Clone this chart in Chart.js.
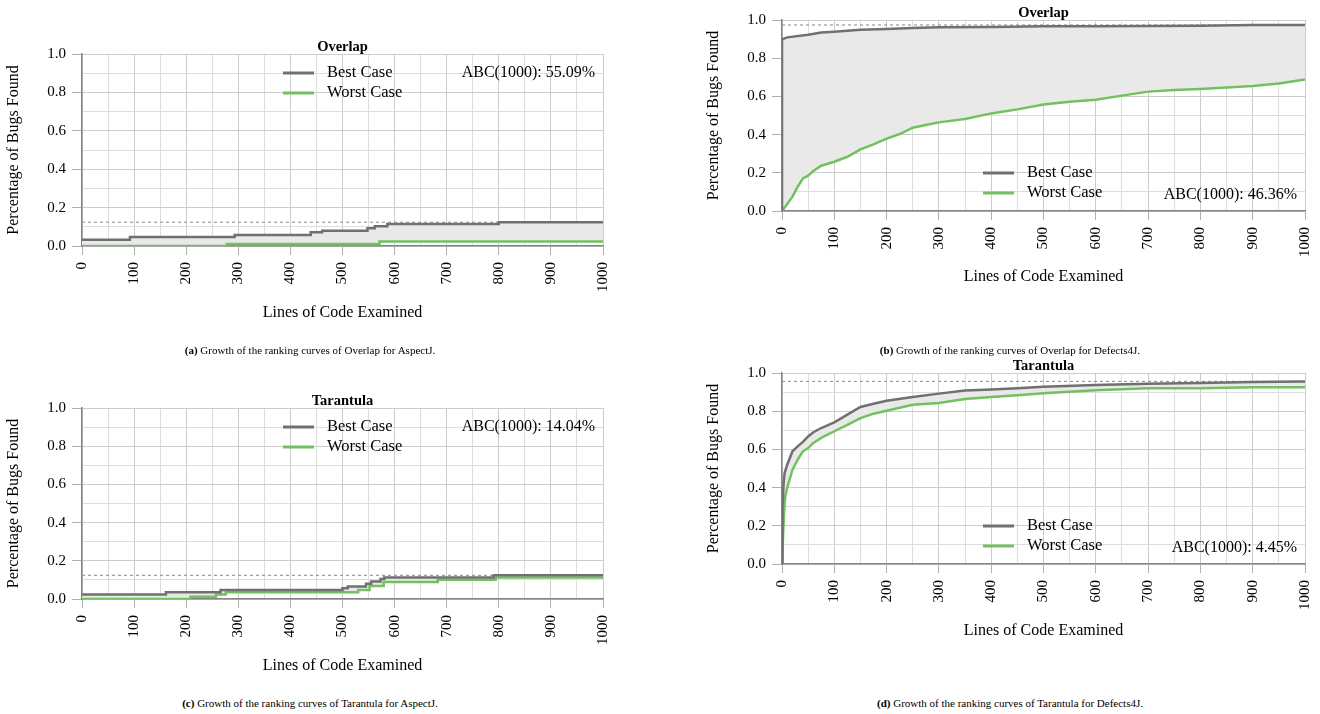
<!DOCTYPE html>
<html>
<head>
<meta charset="utf-8">
<script src="https://cdn.jsdelivr.net/npm/chart.js@4.4.0/dist/chart.umd.min.js"></script>
<style>
  body { margin: 0; background: #fff; width: 1320px; height: 714px; position: relative; overflow: hidden; font-family: "Liberation Serif", serif; }
  canvas { position: absolute; }
  .cap { position: absolute; width: 620px; text-align: center; font-size: 11px; line-height: 14px; color: #000; white-space: nowrap; }
</style>
</head>
<body>
<canvas id="ca" width="640" height="335" style="left:0;top:0"></canvas>
<canvas id="cb" width="640" height="300" style="left:700px;top:0"></canvas>
<canvas id="cc" width="640" height="335" style="left:0;top:355px"></canvas>
<canvas id="cd" width="640" height="300" style="left:700px;top:355px"></canvas>
<div class="cap" style="left:0;top:343px"><b>(a)</b> Growth of the ranking curves of Overlap for AspectJ.</div>
<div class="cap" style="left:700px;top:343px"><b>(b)</b> Growth of the ranking curves of Overlap for Defects4J.</div>
<div class="cap" style="left:0;top:696px"><b>(c)</b> Growth of the ranking curves of Tarantula for AspectJ.</div>
<div class="cap" style="left:700px;top:696px"><b>(d)</b> Growth of the ranking curves of Tarantula for Defects4J.</div>
<script>
// (a) Overlap / AspectJ
const aBestX = [0, 92, 293, 439, 461, 548, 562, 586, 800, 1000];
const aBestY = [0.033, 0.047, 0.057, 0.071, 0.080, 0.092, 0.103, 0.115, 0.124, 0.124];
const aWorstX = [0, 278, 571, 1000];
const aWorstY = [0, 0.010, 0.023, 0.023];

// (b) Overlap / Defects4J
const bBestX = [0, 0, 10, 50, 75, 100, 150, 200, 250, 300, 400, 500, 600, 700, 800, 900, 1000];
const bBestY = [0, 0.899, 0.909, 0.923, 0.935, 0.939, 0.949, 0.953, 0.958, 0.962, 0.963, 0.967, 0.967, 0.969, 0.970, 0.974, 0.974];
const bWorstX = [0, 10, 20, 30, 40, 50, 60, 75, 100, 125, 150, 175, 200, 225, 250, 275, 300, 350, 400, 450, 500, 550, 600, 650, 700, 750, 800, 850, 900, 950, 1000];
const bWorstY = [0, 0.037, 0.075, 0.127, 0.171, 0.185, 0.209, 0.237, 0.258, 0.284, 0.323, 0.349, 0.379, 0.403, 0.436, 0.450, 0.464, 0.482, 0.511, 0.532, 0.558, 0.572, 0.583, 0.604, 0.625, 0.634, 0.639, 0.647, 0.654, 0.668, 0.689];

// (c) Tarantula / AspectJ
const cBestX = [0, 161, 266, 500, 510, 545, 555, 573, 580, 790, 1000];
const cBestY = [0.023, 0.035, 0.047, 0.056, 0.066, 0.080, 0.091, 0.105, 0.112, 0.124, 0.124];
const cWorstX = [0, 208, 257, 276, 530, 552, 579, 683, 794, 1000];
const cWorstY = [0, 0.012, 0.024, 0.035, 0.047, 0.068, 0.089, 0.101, 0.113, 0.113];

// (d) Tarantula / Defects4J
const dBestX = [0, 1, 3, 5, 10, 20, 30, 40, 50, 60, 75, 100, 125, 150, 175, 200, 250, 300, 350, 400, 450, 500, 600, 700, 800, 900, 1000];
const dBestY = [0, 0.30, 0.42, 0.476, 0.52, 0.59, 0.616, 0.639, 0.668, 0.69, 0.712, 0.742, 0.782, 0.822, 0.839, 0.855, 0.874, 0.892, 0.908, 0.914, 0.920, 0.928, 0.937, 0.944, 0.948, 0.953, 0.956];
const dWorstX = [0, 2, 4, 6, 10, 20, 30, 40, 50, 60, 75, 100, 125, 150, 175, 200, 250, 300, 350, 400, 450, 500, 600, 700, 800, 900, 1000];
const dWorstY = [0, 0.15, 0.27, 0.35, 0.40, 0.494, 0.546, 0.59, 0.607, 0.634, 0.66, 0.695, 0.729, 0.764, 0.787, 0.802, 0.834, 0.843, 0.864, 0.874, 0.883, 0.894, 0.91, 0.92, 0.92, 0.925, 0.925];

const abcLabels = ['ABC(1000): 55.09%', 'ABC(1000): 46.36%', 'ABC(1000): 14.04%', 'ABC(1000): 4.45%'];
const titles = ['Overlap', 'Overlap', 'Tarantula', 'Tarantula'];

const FONT = '"Liberation Serif", serif';
const GRAY = '#707070';
const GREEN = '#72c15e';

// title, legend and ABC label drawn inside the plot area
const decor = {
  id: 'decor',
  afterDraw(chart, args, o) {
    const { ctx, chartArea: a } = chart;
    ctx.save();
    ctx.fillStyle = '#000';
    ctx.textBaseline = 'middle';
    ctx.font = 'bold 14.5px ' + FONT;
    ctx.textAlign = 'center';
    ctx.fillText(o.title, (a.left + a.right) / 2, a.top - 7);

    const y1 = o.legendTop ? a.top + 19 : a.bottom - 38;
    const y2 = y1 + 20;
    ctx.font = '16.5px ' + FONT;
    ctx.textAlign = 'left';
    ctx.lineWidth = 3;
    [[GRAY, 'Best Case', y1], [GREEN, 'Worst Case', y2]].forEach(([c, t, y]) => {
      ctx.strokeStyle = c;
      ctx.beginPath();
      ctx.moveTo(a.left + 201, y);
      ctx.lineTo(a.left + 232, y);
      ctx.stroke();
      ctx.fillText(t, a.left + 245, y);
    });
    ctx.font = '16px ' + FONT;
    ctx.textAlign = 'right';
    ctx.fillText(o.abc, a.right - 8, o.legendTop ? y1 : a.bottom - 16);
    ctx.restore();
  }
};

function pts(xs, ys) {
  return xs.map((x, i) => ({ x: x, y: ys[i] }));
}

function makeChart(id, bestX, bestY, worstX, worstY, stepped, n, pad, xH, titlePad) {
  const top = Math.max(...bestY);
  new Chart(document.getElementById(id), {
    type: 'line',
    data: {
      datasets: [{
        data: pts(bestX, bestY),
        borderColor: GRAY,
        borderWidth: 2.5,
        backgroundColor: '#e9e9e9',
        fill: '+1',
        stepped: stepped,
        pointRadius: 0
      }, {
        data: pts(worstX, worstY),
        borderColor: GREEN,
        borderWidth: 2.5,
        fill: false,
        stepped: stepped,
        pointRadius: 0
      }, {
        data: [{ x: 0, y: top }, { x: 1000, y: top }],
        borderColor: '#9a9a9a',
        borderWidth: 1.2,
        borderDash: [3, 3],
        fill: false,
        pointRadius: 0
      }]
    },
    options: {
      responsive: false,
      animation: false,
      layout: { padding: pad },
      plugins: {
        legend: { display: false },
        tooltip: { enabled: false },
        filler: { drawTime: 'beforeDatasetsDraw' },
        decor: { title: titles[n], abc: abcLabels[n], legendTop: stepped }
      },
      scales: {
        x: {
          type: 'linear',
          min: 0,
          max: 1000,
          afterFit: s => { s.height = xH; },
          ticks: {
            stepSize: 50,
            autoSkip: false,
            minRotation: 90,
            maxRotation: 90,
            padding: 7,
            color: '#000',
            font: { family: FONT, size: 15 },
            callback: v => (v % 100 === 0 ? v : '')
          },
          grid: {
            color: c => (c.tick && c.tick.value % 100 === 0 ? '#cdcdcd' : '#dddddd'),
            tickLength: 9,
            tickColor: c => (c.tick && c.tick.value % 100 === 0 ? '#b0b0b0' : 'rgba(0,0,0,0)')
          },
          border: { color: '#858585', width: 1.5 },
          title: {
            display: true,
            text: 'Lines of Code Examined',
            color: '#000',
            font: { family: FONT, size: 16 },
            padding: { top: 0, bottom: titlePad }
          }
        },
        y: {
          min: 0,
          max: 1,
          afterFit: s => { s.width = 82; },
          ticks: {
            stepSize: 0.1,
            autoSkip: false,
            padding: 6,
            color: '#000',
            font: { family: FONT, size: 15 },
            callback: v => (Math.round(v * 10) % 2 === 0 ? v.toFixed(1) : '')
          },
          grid: {
            color: c => (c.tick && Math.round(c.tick.value * 10) % 2 === 0 ? '#cdcdcd' : '#dddddd'),
            tickLength: 10,
            tickColor: c => (c.tick && Math.round(c.tick.value * 10) % 2 === 0 ? '#b0b0b0' : 'rgba(0,0,0,0)')
          },
          border: { color: '#858585', width: 1.5 },
          title: {
            display: true,
            text: 'Percentage of Bugs Found',
            color: '#000',
            font: { family: FONT, size: 16 },
            padding: { top: 4, bottom: 0 }
          }
        }
      }
    },
    plugins: [decor]
  });
}

makeChart('ca', aBestX, aBestY, aWorstX, aWorstY, true, 0, { top: 54, right: 37, left: 0, bottom: 0 }, 89, 13);
makeChart('cb', bBestX, bBestY, bWorstX, bWorstY, false, 1, { top: 20, right: 35, left: 0, bottom: 0 }, 89, 14);
makeChart('cc', cBestX, cBestY, cWorstX, cWorstY, true, 2, { top: 53, right: 37, left: 0, bottom: 0 }, 91, 15);
makeChart('cd', dBestX, dBestY, dWorstX, dWorstY, false, 3, { top: 18, right: 35, left: 0, bottom: 0 }, 91, 15);
</script>
</body>
</html>
